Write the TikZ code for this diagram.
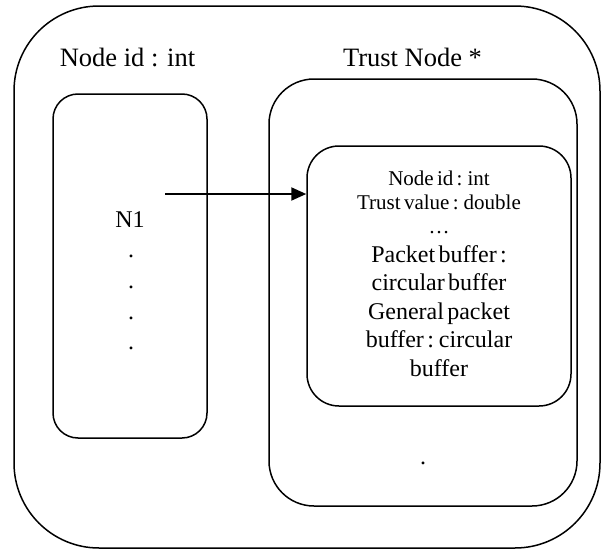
\documentclass[tikz,border=0pt]{standalone}
\usepackage{fontspec}
\setmainfont{Liberation Serif}
\usetikzlibrary{positioning,calc,arrows.meta}

\begin{document}
\begin{tikzpicture}[x=1pt,y=-1pt,line width=1.5pt,
			box/.style={draw, rectangle, inner sep=0pt},
			title/.style={font=\fontsize{26.5}{30}\selectfont, anchor=base, inner sep=0pt},
			dotmark/.style={font=\fontsize{24}{28}\selectfont, anchor=base, inner sep=0pt}]

			\useasboundingbox (0,0) rectangle (606,549);

			\node[box, rounded corners=85pt, minimum width=586pt, minimum height=542pt] (outer) at (307,277) {};
			\node[box, rounded corners=25pt, minimum width=154pt, minimum height=344pt] (ids) at (130,266) {};
			\node[box, rounded corners=45pt, minimum width=308pt, minimum height=427pt] (trust) at (423,292.5) {};
			\node[box, rounded corners=32pt, minimum width=264pt, minimum height=260pt] (rec) at (439,276) {};

			\node[title] (idlabel) at (127.5,66) {Node id : int};
			\node[title] (trustlabel) at (412.5,66) {Trust Node *};

			\node[dotmark] (n1) at (130,227) {N1};
			\foreach \y [count=\i] in {256,287,318,348}
				\node[dotmark] (d\i) at (131,\y+1.5) {.};
			\node[dotmark] (dmore) at (423,464.5) {.};

			\node[align=center, text width=260pt, inner sep=0pt] (attrs) at (439,274)
				{{\fontsize{21}{24}\selectfont Node id : int\\Trust value : double\\…\par}%
				\fontsize{24}{28.5}\selectfont Packet buffer :\\circular buffer\\General packet\\buffer : circular\\buffer\par};

			\coordinate (tail) at (165,194);
			\draw[-{Triangle[length=15pt,width=13pt]}, line width=2pt] (tail) -- (tail -| rec.west);

		\end{tikzpicture}
\end{document}
